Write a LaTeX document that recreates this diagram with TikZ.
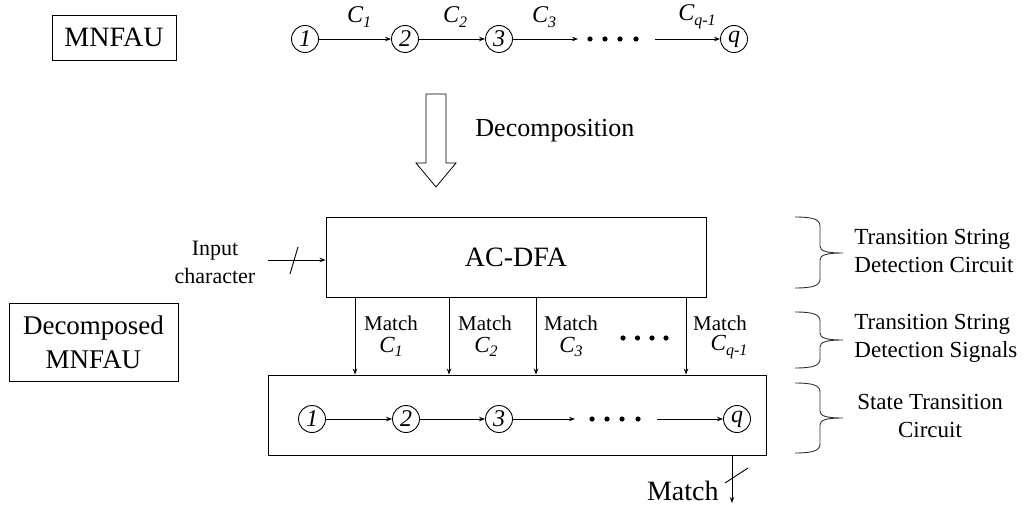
\documentclass[tikz,border=0pt]{standalone}
\usepackage{fontspec}
\setmainfont{Liberation Serif}
\usetikzlibrary{arrows.meta}
\newcommand{\lowsub}[1]{\raisebox{-0.45ex}{\fontsize{16}{16}\selectfont\itshape #1}}
\begin{document}
\begin{tikzpicture}[x=1pt,y=-1pt,line width=0.9pt,
  state/.style={draw,circle,minimum size=27pt,inner sep=0pt,font=\fontsize{24}{24}\selectfont\itshape},
  arr/.style={-{Stealth[length=6pt,width=4.5pt]}},
  boxnode/.style={draw,inner sep=0pt},
  dotnode/.style={circle,fill,inner sep=0pt,minimum size=5.2pt},
  clabel/.style={font=\fontsize{24}{24}\selectfont\itshape,inner sep=0pt},
  mlabel/.style={font=\fontsize{21}{21}\selectfont,inner sep=0pt},
  mclabel/.style={font=\fontsize{23}{23}\selectfont\itshape,inner sep=0pt},
  sidelabel/.style={font=\fontsize{23}{28}\selectfont,inner sep=0pt},
  bracepath/.style={line width=0.9pt,draw=black!80}]
\useasboundingbox (0,0) rectangle (1028,511);

% ---------- top part ----------
\node[boxnode,minimum width=124pt,minimum height=45pt,font=\fontsize{28}{28}\selectfont] (mnfau) at (114,37.5) {MNFAU};

\node[state] (t1) at (305,39) {1};
\node[state] (t2) at (405,39) {2};
\node[state] (t3) at (499,39) {3};
\node[state] (tq) at (734,39) {q};
\coordinate (te3) at (578,39);
\coordinate (ts4) at (655,39);
\draw[arr] (t1) -- (t2);
\draw[arr] (t2) -- (t3);
\draw[arr] (t3) -- (te3);
\draw[arr] (ts4) -- (tq);
\foreach \i/\x in {a/590,b/605,c/620,d/636} \node[dotnode] (td\i) at (\x,39) {};

\node[clabel] (tc1) at (359,17) {C\lowsub{1}};
\node[clabel] (tc2) at (455,17) {C\lowsub{2}};
\node[clabel] (tc3) at (544,17) {C\lowsub{3}};
\node[clabel] (tcq) at (697,17) {C\lowsub{q-1}};

% ---------- decomposition arrow ----------
\draw[line width=0.8pt] (426,94) -- (446,94) -- (446,163) -- (456,163) -- (436,187) -- (416,163) -- (426,163) -- cycle;
\node[anchor=west,inner sep=0pt,font=\fontsize{26}{26}\selectfont] (decomp) at (475,131) {Decomposition};

% ---------- decomposed part ----------
\node[boxnode,minimum width=169pt,minimum height=78pt,align=center,font=\fontsize{27}{34}\selectfont] (dmnfau) at (93.5,342) {Decomposed\\MNFAU};

\node[boxnode,minimum width=380pt,minimum height=80pt,font=\fontsize{28}{28}\selectfont] (acdfa) at (516,257) {AC-DFA};

\node[align=center,inner sep=0pt,font=\fontsize{22}{28}\selectfont] (input) at (215,262) {Input\\character};
\coordinate (instart) at (268,260);
\draw[arr] (instart) -- (acdfa.west |- instart);
\draw (290,274) -- (298,247);

\node[boxnode,minimum width=498pt,minimum height=80pt] (stc) at (517,415) {};

\foreach \n/\x in {m1/355,m2/449,m3/536,m4/686} {
  \coordinate (\n) at (\x,0);
  \draw[arr] (acdfa.south -| \n) -- (stc.north -| \n);
}

\node[mlabel] (ml1) at (391,323) {Match};
\node[mclabel] (mc1) at (391,347) {C\lowsub{1}};
\node[mlabel] (ml2) at (485,323) {Match};
\node[mclabel] (mc2) at (486,347) {C\lowsub{2}};
\node[mlabel] (ml3) at (571,323) {Match};
\node[mclabel] (mc3) at (571,347) {C\lowsub{3}};
\node[mlabel] (ml4) at (720,323) {Match};
\node[mclabel] (mc4) at (729,347) {C\lowsub{q-1}};
\foreach \i/\x in {a/623,b/637.5,c/652,d/666} \node[dotnode] (md\i) at (\x,338) {};

\node[state] (s1) at (312,419) {1};
\node[state] (s2) at (406,419) {2};
\node[state] (s3) at (499,419) {3};
\node[state] (sq) at (737,419) {q};
\coordinate (se3) at (575,419);
\coordinate (ss4) at (657,419);
\draw[arr] (s1) -- (s2);
\draw[arr] (s2) -- (s3);
\draw[arr] (s3) -- (se3);
\draw[arr] (ss4) -- (sq);
\foreach \i/\x in {a/592,b/607,c/622,d/638} \node[dotnode] (sd\i) at (\x,419) {};

\coordinate (outx) at (732,0);
\coordinate (outend) at (732,503);
\draw[arr] (stc.south -| outx) -- (outend);
\draw (725,483) -- (748,468);
\node[anchor=east,inner sep=0pt,font=\fontsize{28}{28}\selectfont] (outlabel) at (719,491) {Match};

% ---------- braces ----------
\foreach \t/\m/\b in {217/253/288, 312/340/368, 383/418/453} {
  \draw[bracepath] (795,\t) .. controls (812,\t) and (820,\t+2) .. (820,\t+9)
     -- (820,\m-7) .. controls (820,\m-2) and (826,\m) .. (843,\m)
     .. controls (826,\m) and (820,\m+2) .. (820,\m+7)
     -- (820,\b-9) .. controls (820,\b-2) and (812,\b) .. (795,\b);
}
\node[sidelabel,anchor=west,align=left] (lab1) at (854,251) {Transition String\\Detection Circuit};
\node[sidelabel,anchor=west,align=left] (lab2) at (854,338) {Transition String\\Detection Signals};
\node[sidelabel,align=center] (lab3) at (930,416) {State Transition\\Circuit};
\end{tikzpicture}
\end{document}
